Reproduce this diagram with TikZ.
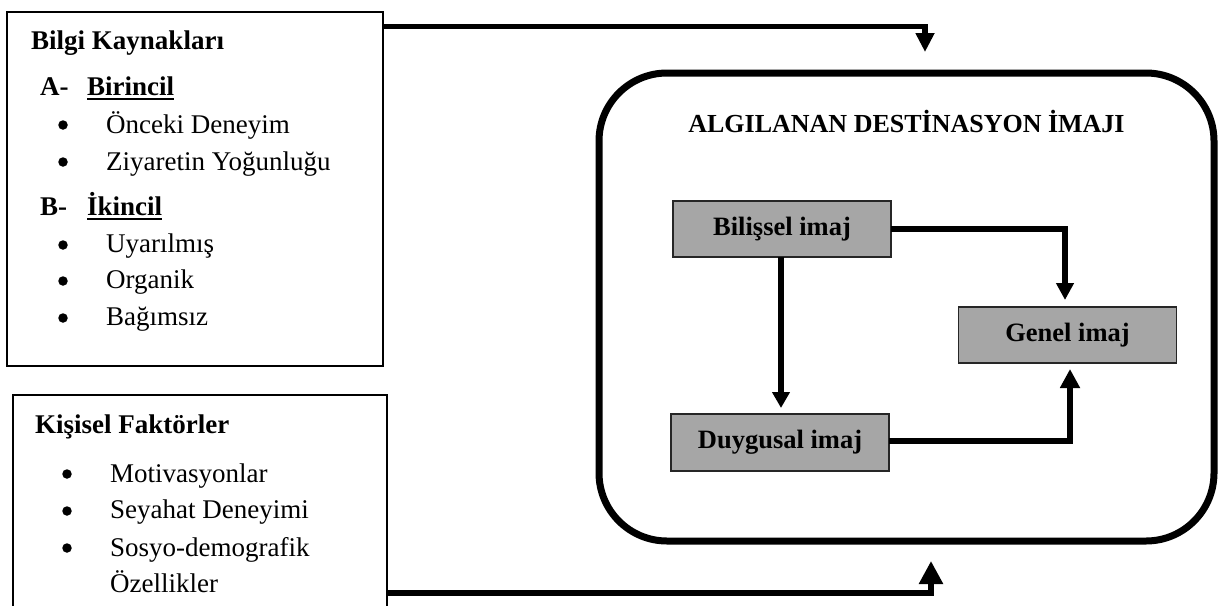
\documentclass[tikz,border=0pt]{standalone}
\usepackage{fontspec}
\setmainfont{Liberation Serif}
\usetikzlibrary{arrows.meta,calc}
\definecolor{boxgray}{HTML}{A6A6A6}

\begin{document}
\begin{tikzpicture}[x=1pt,y=-1pt,
  frame/.style={draw, line width=2.6pt, inner sep=0pt, outer sep=0pt, anchor=north west},
  imgbox/.style={draw=black!85, line width=1.4pt, fill=boxgray, minimum width=218pt,
    minimum height=56pt, inner sep=0pt, outer sep=0pt,
    font=\fontsize{26.5}{30}\selectfont\bfseries},
  txt/.style={anchor=base west, inner sep=0pt, font=\fontsize{27}{30}\selectfont},
  head/.style={anchor=base west, inner sep=0pt, font=\fontsize{27}{30}\selectfont\bfseries},
  dot/.style={circle, fill, inner sep=0pt, minimum size=9.5pt},
  uline/.style={line width=2.2pt},
  conn/.style={line width=5.5pt, line join=miter},
]
\useasboundingbox (0,0) rectangle (1220,605);
\clip (0,0) rectangle (1220,605);
\fill[white] (0,0) rectangle (1220,605);

% information sources
\node[frame, minimum width=376pt, minimum height=354pt] (bilgi) at (7,12) {};
\node[head] (t1) at (31,49) {Bilgi Kaynakları};
\node[head] (a) at (40,95) {A-};
\node[head] (a1) at (87,95) {Birincil};
\draw[uline] ($(a1.base west)+(0,4)$) -- ($(a1.base east)+(0,4)$);
\node[dot] (d1) at (63,125) {};
\node[txt] (s1) at (106,133) {Önceki Deneyim};
\node[dot] (d2) at (63,162) {};
\node[txt] (s2) at (106,170) {Ziyaretin Yoğunluğu};
\node[head] (b) at (40,215) {B-};
\node[head] (b1) at (87,215) {İkincil};
\draw[uline] ($(b1.base west)+(0,4)$) -- ($(b1.base east)+(0,4)$);
\node[dot] (d3) at (63,245) {};
\node[txt] (s3) at (106,252) {Uyarılmış};
\node[dot] (d4) at (63,281) {};
\node[txt] (s4) at (106,288) {Organik};
\node[dot] (d5) at (63,318) {};
\node[txt] (s5) at (106,325) {Bağımsız};

% personal factors
\node[frame, minimum width=374pt, minimum height=240pt] (kisi) at (13,395) {};
\node[head] (t2) at (35,433) {Kişisel Faktörler};
\node[dot] (e1) at (67,474) {};
\node[txt] (k1) at (110,482) {Motivasyonlar};
\node[dot] (e2) at (67,511) {};
\node[txt] (k2) at (110,518) {Seyahat Deneyimi};
\node[dot] (e3) at (67,548) {};
\node[txt] (k3) at (110,556) {Sosyo-demografik};
\node[txt] (k4) at (110,592) {Özellikler};

% perceived destination image
\node[draw, line width=7pt, rounded corners=68pt, minimum width=615pt, minimum height=468pt,
  inner sep=0pt, outer sep=0pt, anchor=north west] (algi) at (599,73) {};
\node[anchor=base, inner sep=0pt, font=\fontsize{26}{30}\selectfont\bfseries] (title)
  at (906.5,132) {ALGILANAN DESTİNASYON İMAJI};

\node[imgbox] (bil) at (782,229) {Bilişsel imaj};
\node[imgbox] (gen) at (1067.5,335) {Genel imaj};
\node[imgbox, minimum height=57pt] (duy) at (780,442.5) {Duygusal imaj};

% connectors
\draw[conn, -{Triangle[width=18pt,length=19pt]}]
  ($(bilgi.north east)+(0,14.5)$) -| ($(algi.north)+(18.5,-21)$);
\draw[conn, -{Triangle[width=23pt,length=23pt]}]
  ($(kisi.north east)+(0,198)$) -| ($(algi.south)+(24.5,20)$);
\draw[conn, -{Triangle[width=17pt,length=16pt]}]
  ($(bil.south)+(-1,0)$) -- ($(duy.north)+(1,-6)$);
\draw[conn, -{Triangle[width=17pt,length=17pt]}]
  (bil.east) -| ($(gen.north)+(-2.5,-7)$);
\draw[conn, -{Triangle[width=19pt,length=19pt]}]
  ($(duy.east)+(0,-1.5)$) -| ($(gen.south)+(2.5,6)$);
\end{tikzpicture}
\end{document}
